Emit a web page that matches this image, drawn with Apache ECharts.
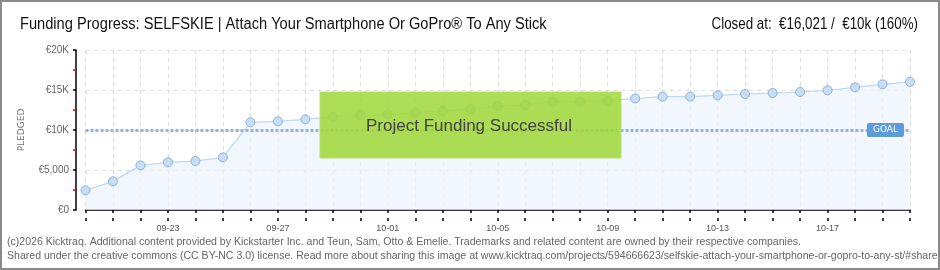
<!DOCTYPE html>
<html><head><meta charset="utf-8">
<script src="https://cdn.jsdelivr.net/npm/echarts@6/dist/echarts.min.js"></script>
<style>html,body{margin:0;padding:0;background:#fff}#c{width:940px;height:270px}</style>
</head><body><div id="c"></div>
<script>
const dates = ['09-20','09-21','09-22','09-23','09-24','09-25','09-26','09-27','09-28','09-29','09-30','10-01','10-02','10-03','10-04','10-05','10-06','10-07','10-08','10-09','10-10','10-11','10-12','10-13','10-14','10-15','10-16','10-17','10-18','10-19','10-20'];
const pledged = [2460,3580,5580,5960,6120,6580,10960,11080,11330,11670,11870,11950,12170,12370,12620,13000,13120,13540,13560,13670,13940,14170,14180,14330,14500,14620,14750,14960,15330,15710,16021];
const goal = 10000;
const yTickLabels = {0:'€0',5000:'€5,000',10000:'€10K',15000:'€15K',20000:'€20K'};
const titleText = 'Funding Progress: SELFSKIE | Attach Your Smartphone Or GoPro® To Any Stick';
const statusText = 'Closed at:  €16,021 /  €10k (160%)';
const successText = 'Project Funding Successful';
const footer1 = '(c)2026 Kicktraq. Additional content provided by Kickstarter Inc. and Teun, Sam, Otto & Emelie. Trademarks and related content are owned by their respective companies.';
const footer2 = 'Shared under the creative commons (CC BY-NC 3.0) license. Read more about sharing this image at www.kicktraq.com/projects/594666623/selfskie-attach-your-smartphone-or-gopro-to-any-st/#share';

const FONT = '"Liberation Sans",Arial,sans-serif';
const chart = echarts.init(document.getElementById('c'), null, {renderer:'canvas'});
chart.setOption({
  animation:false,
  backgroundColor:'#fff',
  grid:{left:85.5,right:30,top:50,bottom:60},
  xAxis:[{
    type:'category',data:dates,boundaryGap:false,offset:11,
    axisLine:{lineStyle:{color:'#000',width:1.5}},
    axisTick:{show:true,interval:0,length:3,lineStyle:{color:'#000',width:1.5}},
    axisLabel:{interval:(i)=>(i-3)%4===0 && i>=3,margin:3,fontSize:9,color:'#555',fontFamily:FONT},
    splitLine:{show:true,interval:0,lineStyle:{color:'#ddd',type:[4,4]}}
  },{
    type:'category',data:dates,boundaryGap:false,offset:11,position:'bottom',
    axisLine:{show:false},
    axisTick:{show:true,inside:true,interval:0,length:3,lineStyle:{color:'#000',width:1.5}},
    axisLabel:{show:false},splitLine:{show:false}
  }],
  yAxis:{
    type:'value',min:0,max:20000,interval:5000,offset:9.5,
    name:'PLEDGED',nameLocation:'middle',nameGap:50,nameRotate:90,
    nameTextStyle:{fontSize:9,color:'#777',fontFamily:'DejaVu Sans'},
    axisLine:{show:true,lineStyle:{color:'#000',width:1.5}},
    axisTick:{show:true,length:3,lineStyle:{color:'#000',width:1.5}},
    minorTick:{show:true,splitNumber:2,length:3,lineStyle:{color:'#e00',width:1.5}},
    axisLabel:{formatter:v=>yTickLabels[v],fontSize:10,color:'#666',margin:7,fontFamily:FONT},
    splitLine:{show:true,lineStyle:{color:'#ddd',type:[4,4]}}
  },
  series:[{
    type:'line',data:pledged,symbol:'circle',symbolSize:9,
    lineStyle:{color:'#bcd9f5',width:1.2},
    itemStyle:{color:'#c5dff8',borderColor:'#93afd0',borderWidth:1},
    areaStyle:{color:'#edf4fc'},
    markLine:{
      silent:true,symbol:'none',
      lineStyle:{color:'#8fb5e2',type:[3,2],width:3},
      label:{show:true,position:'insideEnd',formatter:'GOAL',distance:6,
        backgroundColor:'#5e9bdb',color:'#fff',fontSize:9,fontFamily:'DejaVu Sans',
        padding:[3,6,2,6],borderRadius:2},
      data:[{yAxis:goal}]
    },
    z:2
  }],
  graphic:[
    {type:'text',x:20,y:25,scaleX:0.915,
      style:{text:titleText,fill:'#111',font:'16px '+FONT,verticalAlign:'middle'}},
    {type:'text',x:918,y:25,scaleX:0.835,
      style:{text:statusText,fill:'#111',font:'16px '+FONT,align:'right',verticalAlign:'middle'}},
    {type:'rect',z:10,shape:{x:320,y:92,width:301,height:66},
      style:{fill:'rgba(160,216,60,0.88)',stroke:'#b6e06a',lineWidth:1}},
    {type:'text',z:11,x:469,y:126,
      style:{text:successText,fill:'#444',font:'17px '+FONT,
        align:'center',verticalAlign:'middle',textShadowColor:'#fff',textShadowOffsetX:1,textShadowOffsetY:1,textShadowBlur:0}},
    {type:'text',x:7,y:242,style:{text:footer1,fill:'#666',font:'10.55px '+FONT,verticalAlign:'middle'}},
    {type:'text',x:7,y:256,style:{text:footer2,fill:'#666',font:'10.55px '+FONT,verticalAlign:'middle'}},
    {type:'rect',z:20,shape:{x:1,y:1,width:938,height:268},style:{fill:'none',stroke:'#8a8a8a',lineWidth:2}}
  ]
});
</script></body></html>
